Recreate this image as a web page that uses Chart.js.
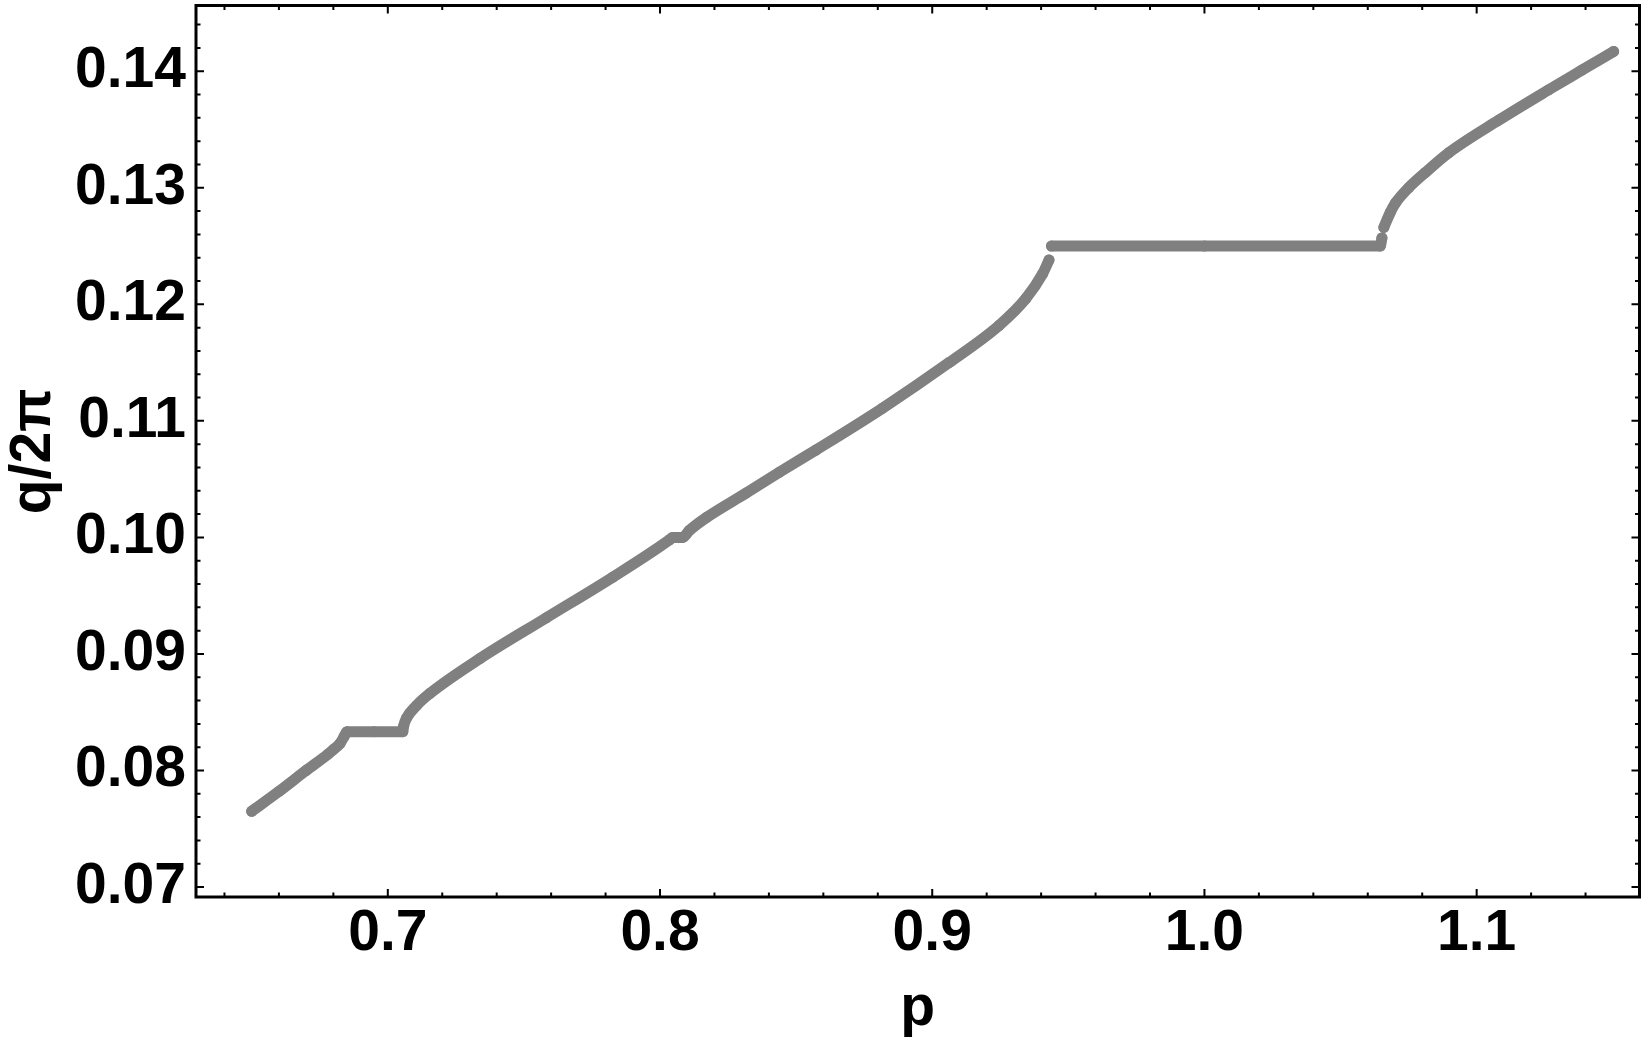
<!DOCTYPE html>
<html>
<head>
<meta charset="utf-8">
<script src="https://cdn.jsdelivr.net/npm/chart.js@4.4.1/dist/chart.umd.min.js"></script>
<style>
  html, body { margin: 0; padding: 0; background: #fff; }
  #wrap { width: 1645px; height: 1047px; }
</style>
</head>
<body>
<div id="wrap"><canvas id="qChart" width="1645" height="1047"></canvas></div>
<script>
// p values and q/2pi values; null q = break in the curve
const pValues = [
  0.650, 0.660, 0.670, 0.678, 0.680, 0.6824, 0.6839, 0.685, 0.695, 0.7055,
  0.7058, 0.7069, 0.7105, 0.7154, 0.7338, 0.7582, 0.7827, 0.8035, 0.8046, 0.8083,
  0.8108, 0.8170, 0.8316, 0.8439, 0.8573, 0.8818, 0.9062, 0.9246, 0.9344, 0.9405, 0.9429,
  0.9432,
  0.9438, 1.000, 1.0646, 1.0652,
  1.0655,
  1.0659, 1.0683, 1.0702, 1.0750, 1.0811, 1.0897, 1.1081, 1.1264, 1.1387, 1.1503
];
const qValues = [
  0.0765, 0.0782, 0.0800, 0.0814, 0.0818, 0.0823, 0.0829, 0.08333, 0.08333, 0.08333,
  0.0838, 0.0845, 0.08556, 0.0866, 0.0896, 0.0931, 0.0966, 0.0998, 0.1000, 0.1000,
  0.1006, 0.1017, 0.1038, 0.1056, 0.1075, 0.1111, 0.1150, 0.1182, 0.1205, 0.1226, 0.1238,
  null,
  0.125, 0.125, 0.125, 0.1257,
  null,
  0.1266, 0.1279, 0.1287, 0.1300, 0.1313, 0.1330, 0.1358, 0.1384, 0.1401, 0.1417
];

const xMajorTicks = [0.7, 0.8, 0.9, 1.0, 1.1];
const xMinorTicks = [0.64, 0.66, 0.68, 0.72, 0.74, 0.76, 0.78, 0.82, 0.84, 0.86, 0.88,
  0.92, 0.94, 0.96, 0.98, 1.02, 1.04, 1.06, 1.08, 1.12, 1.14];
const yMajorTicks = [0.07, 0.08, 0.09, 0.10, 0.11, 0.12, 0.13, 0.14];
const yMinorTicks = [0.072, 0.074, 0.076, 0.078, 0.082, 0.084, 0.086, 0.088,
  0.092, 0.094, 0.096, 0.098, 0.102, 0.104, 0.106, 0.108, 0.112, 0.114, 0.116, 0.118,
  0.122, 0.124, 0.126, 0.128, 0.132, 0.134, 0.136, 0.138, 0.142, 0.144];

const gray = '#808080';
const boldFont = { family: '"Liberation Sans", Arial, sans-serif', weight: 'bold', size: 57 };

// Mathematica-style frame with inward ticks on all four sides
const frameTicks = {
  id: 'frameTicks',
  afterDatasetsDraw(chart) {
    const { ctx, chartArea: a, scales: { x, y } } = chart;
    ctx.save();
    ctx.strokeStyle = '#000';
    ctx.lineWidth = 2;
    const drawX = (v, len) => {
      const px = x.getPixelForValue(v);
      ctx.beginPath();
      ctx.moveTo(px, a.bottom); ctx.lineTo(px, a.bottom - len);
      ctx.moveTo(px, a.top); ctx.lineTo(px, a.top + len);
      ctx.stroke();
    };
    const drawY = (v, len) => {
      const py = y.getPixelForValue(v);
      ctx.beginPath();
      ctx.moveTo(a.left, py); ctx.lineTo(a.left + len, py);
      ctx.moveTo(a.right, py); ctx.lineTo(a.right - len, py);
      ctx.stroke();
    };
    xMajorTicks.forEach(v => drawX(v, 8));
    xMinorTicks.forEach(v => drawX(v, 4.5));
    yMajorTicks.forEach(v => drawY(v, 8));
    yMinorTicks.forEach(v => drawY(v, 4.5));
    ctx.lineWidth = 3;
    ctx.strokeRect(a.left, a.top, a.right - a.left, a.bottom - a.top);
    ctx.restore();
  }
};

const ctx = document.getElementById('qChart').getContext('2d');
const qChart = new Chart(ctx, {
  type: 'scatter',
  data: {
    datasets: [{
      label: 'q/2π',
      data: pValues.map((p, i) => ({ x: p, y: qValues[i] })),
      showLine: true,
      spanGaps: false,
      borderColor: gray,
      borderWidth: 11,
      borderCapStyle: 'round',
      borderJoinStyle: 'round',
      cubicInterpolationMode: 'monotone',
      pointRadius: 5.5,
      pointBorderWidth: 0,
      pointBackgroundColor: gray
    }]
  },
  options: {
    responsive: false,
    animation: false,
    layout: { padding: { left: 0, right: 4, top: 2, bottom: 0 } },
    plugins: {
      legend: { display: false },
      tooltip: { enabled: false }
    },
    scales: {
      x: {
        type: 'linear',
        min: 0.62954,
        max: 1.15982,
        afterBuildTicks: axis => { axis.ticks = xMajorTicks.map(v => ({ value: v })); },
        afterFit: scale => {
          scale.height = 150;
          scale.paddingLeft = 0;
          scale.paddingRight = 0;
        },
        grid: { display: false, drawTicks: false },
        border: { display: false },
        ticks: {
          autoSkip: false,
          maxRotation: 0,
          padding: 3,
          color: '#000',
          font: boldFont,
          callback: v => v.toFixed(1)
        },
        title: {
          display: true,
          text: 'p',
          color: '#000',
          font: boldFont,
          padding: { top: 0, bottom: 4 }
        }
      },
      y: {
        type: 'linear',
        min: 0.069145,
        max: 0.145641,
        afterBuildTicks: axis => { axis.ticks = yMajorTicks.map(v => ({ value: v })); },
        afterFit: scale => {
          scale.width = 196;
          scale.paddingTop = 0;
          scale.paddingBottom = 0;
        },
        grid: { display: false, drawTicks: false },
        border: { display: false },
        ticks: {
          autoSkip: false,
          padding: 10,
          color: '#000',
          font: boldFont,
          callback: v => v.toFixed(2)
        },
        title: {
          display: true,
          text: 'q/2π',
          color: '#000',
          font: boldFont,
          padding: { top: 0, bottom: 0 }
        }
      }
    }
  },
  plugins: [frameTicks]
});
</script>
</body>
</html>
